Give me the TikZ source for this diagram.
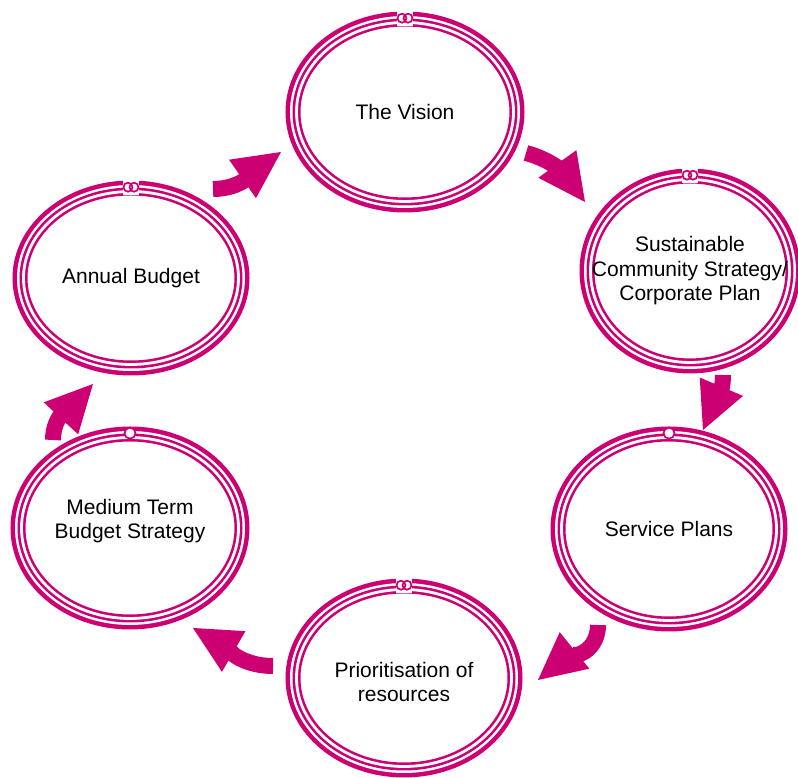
\documentclass[tikz,border=0pt]{standalone}
\usepackage{fontspec}
\setmainfont{Liberation Sans}
\usetikzlibrary{arrows.meta, shapes.geometric}

\definecolor{mag}{RGB}{204,0,115}

\begin{document}
\begin{tikzpicture}[x=1pt, y=1pt,
      txt/.style={font=\fontsize{21pt}{24.5pt}\selectfont, align=center, text=black},
      stage/.style={ellipse, fill=white, draw=mag, line width=2.6pt,
                    double=white, double distance=2.8pt,
                    preaction={draw=mag, line width=22pt},
                    preaction={draw=white, line width=13pt}},
      flow/.style={mag, line width=16pt,
                   -{Triangle[length=47pt, width=47pt, line width=0pt]}},
      knot/.style={mag, line width=1.7pt}]
    \useasboundingbox (0,0) rectangle (798,778);
    % the six stages
    \node[stage, minimum width=217pt, minimum height=179pt,
          label={[txt]center:The Vision}] (vis) at (405,666) {};
    \node[stage, minimum width=199pt, minimum height=183pt,
          label={[txt]center:{Sustainable\\Community Strategy/\\Corporate Plan}}] (scs) at (690,507) {};
    \node[stage, minimum width=215pt, minimum height=183pt,
          label={[txt]center:Service Plans}] (sp) at (669,249) {};
    \node[stage, minimum width=215pt, minimum height=177pt,
          label={[txt, yshift=-4pt]center:{Prioritisation of\\resources}}] (pr) at (404,100) {};
    \node[stage, minimum width=217pt, minimum height=181pt,
          label={[txt, yshift=7pt]center:{Medium Term\\Budget Strategy}}] (mt) at (130,250) {};
    \node[stage, minimum width=215pt, minimum height=173pt,
          label={[txt]center:Annual Budget}] (ab) at (131,500) {};
    % joins at the top of the rings
    \foreach \n in {sp,mt}
      \draw[knot, fill=white] ([yshift=3pt]\n.north) circle (5.5);
    \foreach \n in {vis,scs,ab,pr} {
      \fill[white] ([shift={(-8,-5)}]\n.north) rectangle ([shift={(8,11)}]\n.north);
      \draw[knot] ([shift={(-3,3)}]\n.north) circle (4.5);
      \draw[knot] ([shift={(3,3)}]\n.north) circle (4.5);
    }
    % arrow ends
    \coordinate (t1) at (213,589);   \coordinate (h1) at (281,626);
    \coordinate (t2) at (526,625);   \coordinate (h2) at (585,576);
    \coordinate (t3) at (723,403);   \coordinate (h3) at (703,348);
    \coordinate (t4) at (598,153);   \coordinate (h4) at (538,98);
    \coordinate (t5) at (273,112);   \coordinate (h5) at (193,150);
    \coordinate (t6) at (53,338);    \coordinate (h6) at (93,394);
    % arrows round the cycle
    \draw[flow] (t1) to[out=0, in=215] (h1);
    \draw[flow] (t2) to[out=-15, in=126] (h2);
    \draw[flow] (t3) to[out=-90, in=67] (h3);
    \draw[flow] (t4) to[out=-90, in=39] (h4);
    \draw[flow] (t5) to[out=180, in=-30] (h5);
    \draw[flow] (t6) to[out=90, in=-133] (h6);
  \end{tikzpicture}
\end{document}
